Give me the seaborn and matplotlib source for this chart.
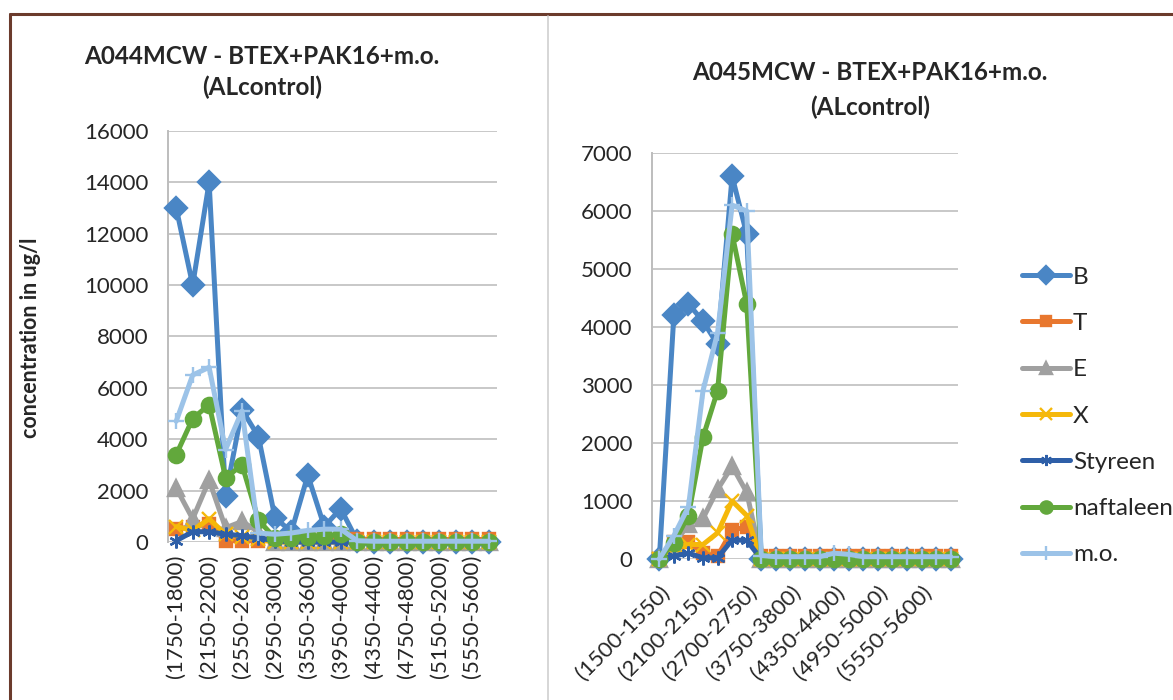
import matplotlib
matplotlib.use("Agg")
import matplotlib.pyplot as plt
import seaborn as sns
import numpy as np
from matplotlib.lines import Line2D

# ---------------- data ----------------
series_names = ["B", "T", "E", "X", "Styreen", "naftaleen", "m.o."]

left_title = "A044MCW - BTEX+PAK16+m.o.\n(ALcontrol)"
left_cats = ["(1750-1800)", "(1950-2000)", "(2150-2200)", "(2350-2400)", "(2550-2600)",
             "(2750-2800)", "(2950-3000)", "(3250-3300)", "(3550-3600)", "(3750-3800)",
             "(3950-4000)", "(4150-4200)", "(4350-4400)", "(4550-4600)", "(4750-4800)",
             "(4950-5000)", "(5150-5200)", "(5350-5400)", "(5550-5600)", "(5750-5800)"]
left_B = [13000, 10000, 14000, 1800, 5150, 4100, 950, 400, 2600, 600, 1300, 50, 0, 0, 0, 0, 0, 0, 0, 0]
left_T = [500, 600, 700, 50, 50, 50, 50, 100, 100, 100, 100, 100, 100, 100, 100, 100, 100, 100, 100, 100]
left_E = [2100, 900, 2400, 550, 800, 400, 0, 0, 0, 0, 0, 0, 0, 0, 0, 0, 0, 0, 0, 0]
left_X = [600, 450, 900, 300, 200, 100, 0, 0, 0, 0, 0, 0, 0, 0, 0, 0, 0, 0, 0, 0]
left_Sty = [50, 400, 400, 300, 250, 150, 50, 0, 0, 0, 0, 0, 0, 0, 0, 0, 0, 0, 0, 0]
left_naf = [3400, 4800, 5350, 2500, 3000, 850, 150, 150, 200, 250, 300, 0, 0, 0, 0, 0, 0, 0, 0, 0]
left_mo = [4700, 6500, 6800, 3600, 5100, 350, 300, 350, 450, 500, 500, 50, 30, 30, 30, 30, 30, 30, 30, 30]

right_title = "A045MCW - BTEX+PAK16+m.o.\n(ALcontrol)"
right_cats = ["(1500-1550)", "(1700-1750)", "(1900-1950)", "(2100-2150)", "(2300-2350)",
              "(2500-2550)", "(2700-2750)", "(2900-2950)", "(3350-3400)", "(3750-3800)",
              "(3950-4000)", "(4150-4200)", "(4350-4400)", "(4550-4600)", "(4750-4800)",
              "(4950-5000)", "(5150-5200)", "(5350-5400)", "(5550-5600)", "(5750-5800)",
              "(5950-6000)"]
right_B = [0, 4200, 4400, 4100, 3700, 6600, 5600, 0, 0, 0, 0, 0, 0, 0, 0, 0, 0, 0, 0, 0, 0]
right_T = [0, 300, 300, 100, 50, 500, 550, 50, 50, 50, 50, 50, 50, 50, 50, 50, 50, 50, 50, 50, 50]
right_E = [0, 250, 600, 700, 1200, 1600, 1150, 0, 0, 0, 0, 0, 0, 0, 0, 0, 0, 0, 0, 0, 0]
right_X = [0, 200, 250, 250, 450, 1000, 750, 0, 0, 0, 0, 0, 0, 0, 0, 0, 0, 0, 0, 0, 0]
right_Sty = [0, 50, 100, 20, 20, 330, 320, 0, 0, 0, 0, 0, 0, 0, 0, 0, 0, 0, 0, 0, 0]
right_naf = [0, 280, 750, 2100, 2900, 5600, 4400, 0, 0, 0, 0, 0, 0, 0, 0, 0, 0, 0, 0, 0, 0]
right_mo = [0, 400, 900, 2900, 3900, 6100, 6000, 60, 40, 40, 40, 40, 100, 80, 40, 40, 40, 40, 40, 40, 40]

left_yticks = [0, 2000, 4000, 6000, 8000, 10000, 12000, 14000, 16000]
right_yticks = [0, 1000, 2000, 3000, 4000, 5000, 6000, 7000]
ylabel = "concentration in ug/l"

# ---------------- style ----------------
sns.set_theme(style="white")
plt.rcParams["font.family"] = ["Lato", "DejaVu Sans"]

colors = {"B": "#4a86c5", "T": "#e8772e", "E": "#a0a0a0", "X": "#f5b80a",
          "Styreen": "#2e5fa8", "naftaleen": "#62a83c", "m.o.": "#9cc3e8"}
markers = {"B": "D", "T": "s", "E": "^", "X": "x", "Styreen": (6, 2, 0),
           "naftaleen": "o", "m.o.": "+"}
msizes = {"B": 11, "T": 9, "E": 11, "X": 10, "Styreen": 10, "naftaleen": 11, "m.o.": 12}

W, H = 1173, 700
fig = plt.figure(figsize=(W / 100, H / 100), dpi=100)
fig.patch.set_facecolor("white")

def ax_rect(x0, y0, x1, y1):
    return [x0 / W, 1 - y1 / H, (x1 - x0) / W, (y1 - y0) / H]

axL = fig.add_axes(ax_rect(168, 131, 497, 542))
axR = fig.add_axes(ax_rect(652, 153, 958, 559))

TXT = "#262626"

def draw(ax, cats, data, ymax, yticks, step, rot):
    idx = np.arange(len(cats))
    for name, vals in zip(series_names, data):
        sns.lineplot(x=idx, y=vals, ax=ax, color=colors[name], linewidth=3.6,
                     marker=markers[name], markersize=msizes[name],
                     markeredgecolor=colors[name], markeredgewidth=1.7,
                     label=name, legend=False, clip_on=False, zorder=3)
    ax.set_xlim(-0.5, len(cats) - 0.5)
    ax.set_ylim(0, ymax)
    ax.set_yticks(yticks)
    ax.set_yticklabels([str(v) for v in yticks], fontsize=16, color=TXT)
    ax.yaxis.grid(True, color="#c8c8c8", linewidth=1.4)
    ax.xaxis.grid(False)
    ax.set_axisbelow(True)
    for s in ["top", "right", "bottom"]:
        ax.spines[s].set_visible(False)
    ax.spines["left"].set_color("#bdbdbd")
    ax.spines["left"].set_linewidth(1.4)
    ax.tick_params(axis="y", length=0, pad=14)
    ax.tick_params(axis="x", length=0)
    ax.set_xticks(idx[::step])
    if rot == 90:
        ax.set_xticklabels(cats[::step], rotation=90, fontsize=16, color=TXT)
        ax.tick_params(axis="x", pad=9)
    else:
        ax.set_xticklabels(cats[::step], rotation=45, ha="right", va="top",
                           rotation_mode="anchor", fontsize=16, color=TXT)
        ax.tick_params(axis="x", pad=17)
    ax.set_xlabel("")
    ax.set_ylabel("")

draw(axL, left_cats, [left_B, left_T, left_E, left_X, left_Sty, left_naf, left_mo],
     16000, left_yticks, 2, 90)
draw(axR, right_cats, [right_B, right_T, right_E, right_X, right_Sty, right_naf, right_mo],
     7000, right_yticks, 3, 45)

fig.text(262 / W, 1 - 72 / H, left_title, ha="center", va="center", fontsize=17.5,
         fontweight="bold", color=TXT, linespacing=1.42)
fig.text(870 / W, 1 - 90 / H, right_title, ha="center", va="center", fontsize=17.5,
         fontweight="bold", color=TXT, linespacing=1.56)
fig.text(31 / W, 1 - 338 / H, ylabel, rotation=90, ha="center", va="center",
         fontsize=15.5, fontweight="bold", color=TXT)

handles, labels = axR.get_legend_handles_labels()
leg = fig.legend(handles, labels, loc="center left",
                 bbox_to_anchor=(1012 / W, 1 - 416 / H), frameon=False,
                 fontsize=17.5, handlelength=2.0, handletextpad=0.1,
                 labelspacing=1.04, borderaxespad=0, markerscale=0.8)
for t in leg.get_texts():
    t.set_color(TXT)

# frame lines
fig.add_artist(Line2D([10 / W, 1], [1 - 14 / H, 1 - 14 / H], color="#6b3b2c", linewidth=2.2))
fig.add_artist(Line2D([10 / W, 10 / W], [0, 1 - 14 / H], color="#6b3b2c", linewidth=2.2))
fig.add_artist(Line2D([548 / W, 548 / W], [0, 1 - 16 / H], color="#cfcfcf", linewidth=1.2))

fig.savefig("out.png", dpi=100, facecolor="white")
